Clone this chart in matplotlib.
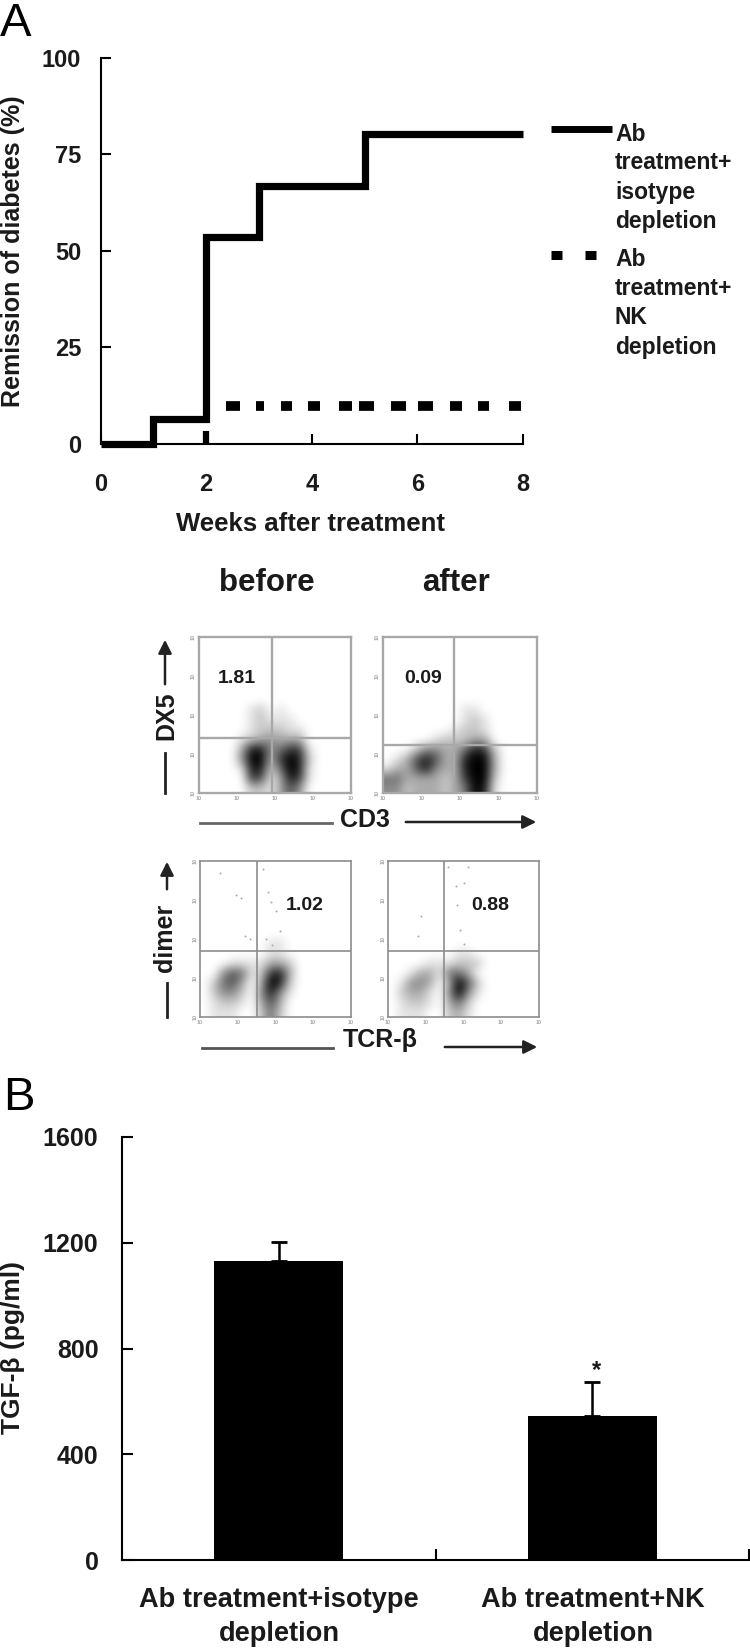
import numpy as np
import matplotlib
matplotlib.use('Agg')
import matplotlib.pyplot as plt

plt.rcParams['font.family'] = ['Liberation Sans', 'DejaVu Sans']
plt.rcParams['font.weight'] = 'bold'

W, H = 750, 1648
TXT = '#1a1a1a'

# Panel A: remission curves
weeks = [0, 1, 2, 3, 5, 8]
remission_iso = [0, 6.4, 53.6, 66.8, 80.2, 80.2]
nk_level = 9.8
nk_dash_start = [2.37, 2.94, 3.41, 3.92, 4.52, 4.89, 5.50, 6.02, 6.62, 7.14, 7.74]
nk_dash_end = [2.64, 3.09, 3.63, 4.15, 4.76, 5.17, 5.78, 6.29, 6.85, 7.36, 7.97]
nk_stub_top = 3.4
a_xticks = [0, 2, 4, 6, 8]
a_yticks = [0, 25, 50, 75, 100]
legend_iso = ['Ab', 'treatment+', 'isotype', 'depletion']
legend_nk = ['Ab', 'treatment+', 'NK', 'depletion']

# Panel B: TGF-beta bars
groups = ['Ab treatment+isotype\ndepletion', 'Ab treatment+NK\ndepletion']
tgf_mean = [1131, 545]
tgf_err = [71, 128]
b_yticks = [0, 400, 800, 1200, 1600]

# Flow plots: density read by eye, 0 = white, 9 = black, top row first
EMPTY = '0000000000000000'
dens_before = [EMPTY] * 7 + ['0000012010000000', '0000012111000000', '0000012221100000',
                             '0000123433300000', '0000388457710000', '0000499379820000',
                             '0000188259810000', '0000076138710000', '0000022136400000']
dens_after = [EMPTY] * 7 + ['0000000011000000', '0000000012100000', '0000000122100000',
                            '0000012223300000', '0002443358720000', '0136863389930000',
                            '1336843389930000', '5533332379920000', '4423332359810000']
dens_tcr1 = [EMPTY] * 8 + ['0000000110000000', '0000000110000000', '0001111332000000',
                           '0046512783000000', '0256303982000000', '0244204841000000',
                           '0122103630000000', '0111002520000000']
dens_tcr2 = [EMPTY] * 9 + ['0000000110000000', '0000111222000000', '0013315530000000',
                           '0144303962000000', '0233104941000000', '0122103520000000',
                           '0111002310000000']

# sparse events in the upper gates, fractions of the plot
sparse_x_tcr1 = [0.13, 0.24, 0.27, 0.30, 0.42, 0.45, 0.47, 0.50, 0.53, 0.48, 0.44, 0.33]
sparse_y_tcr1 = [0.92, 0.78, 0.76, 0.52, 0.95, 0.80, 0.74, 0.68, 0.55, 0.46, 0.50, 0.50]
sparse_x_tcr2 = [0.22, 0.40, 0.45, 0.50, 0.53, 0.46, 0.48, 0.20, 0.50]
sparse_y_tcr2 = [0.65, 0.96, 0.84, 0.86, 0.96, 0.72, 0.56, 0.52, 0.47]

gate_before = (0.48, 0.35)
gate_after = (0.46, 0.31)
gate_tcr1 = (0.38, 0.42)
gate_tcr2 = (0.37, 0.42)
pct_values = ['1.81', '0.09', '1.02', '0.88']


def px_axes(fig, left, top, right, bottom):
    return fig.add_axes([left / W, 1 - bottom / H, (right - left) / W, (bottom - top) / H])


def flow_panel(fig, box, rows, gate, gate_col, gate_lw, sx=None, sy=None):
    ax = px_axes(fig, *box)
    grid = np.array([[int(c) for c in r] for r in rows], dtype=float)
    ax.imshow(grid, cmap='gray_r', vmin=0, vmax=9, interpolation='bicubic',
              extent=[0, 1, 0, 1], aspect='auto', zorder=1)
    if sx:
        ax.scatter(sx, sy, s=2.0, c='#aaaaaa', linewidths=0, zorder=2)
    ax.axvline(gate[0], color=gate_col, lw=gate_lw, zorder=3)
    ax.axhline(gate[1], color=gate_col, lw=gate_lw, zorder=3)
    ax.set_xlim(0, 1)
    ax.set_ylim(0, 1)
    ax.set_xticks([])
    ax.set_yticks([])
    for s in ax.spines.values():
        s.set_color(gate_col)
        s.set_linewidth(gate_lw)
    # tiny decade labels, nearly unreadable in the source too
    for i in range(5):
        ax.text(i / 4, -0.035, '10', fontsize=4, color='#aaaaaa', ha='center', va='center', clip_on=False)
        ax.text(-0.035, i / 4, '10', fontsize=4, color='#aaaaaa', ha='center', va='center',
                rotation=90, clip_on=False)
    return ax


fig = plt.figure(figsize=(W / 100, H / 100), dpi=100)

# ---- panel A curve
ax1 = px_axes(fig, 100.5, 58, 523, 444)
ax1.step(weeks, remission_iso, where='post', color='black', lw=5.2, solid_joinstyle='miter',
         solid_capstyle='butt', clip_on=False)
ax1.hlines([nk_level] * len(nk_dash_start), nk_dash_start, nk_dash_end, color='black', lw=7)
ax1.vlines([2], [0], [nk_stub_top], color='black', lw=4.5)
ax1.set_xlim(0, 8)
ax1.set_ylim(0, 100)
ax1.set_xticks(a_xticks)
ax1.set_yticks(a_yticks)
ax1.tick_params(direction='in', length=7, width=1.5, labelsize=17)
ax1.tick_params(axis='x', pad=21)
ax1.tick_params(axis='y', pad=14)
for t in ax1.get_xticklabels() + ax1.get_yticklabels():
    t.set_color(TXT)
ax1.spines['top'].set_visible(False)
ax1.spines['right'].set_visible(False)
ax1.spines['left'].set_linewidth(1.5)
ax1.spines['bottom'].set_linewidth(1.5)

# ---- panel B bars
ax2 = px_axes(fig, 122, 1137, 749, 1560)
ax2.bar([0.5, 1.5], tgf_mean, width=0.41, color='black')
ax2.errorbar([0.5, 1.5], tgf_mean, yerr=[[0, 0], tgf_err], fmt='none', ecolor='black',
             elinewidth=1.8, capsize=5.5, capthick=2)
ax2.set_xlim(0, 2)
ax2.set_ylim(0, 1600)
ax2.set_xticks([1, 2])
ax2.set_xticklabels([])
ax2.set_yticks(b_yticks)
ax2.tick_params(direction='in', width=1.5, length=8, labelsize=18, pad=17)
for t in ax2.get_yticklabels():
    t.set_color(TXT)
ax2.spines['top'].set_visible(False)
ax2.spines['right'].set_visible(False)
ax2.spines['left'].set_linewidth(1.5)
ax2.spines['bottom'].set_linewidth(1.5)

# ---- flow plots
flow_panel(fig, (199, 637, 351, 793), dens_before, gate_before, '#a8a8a8', 1.7)
flow_panel(fig, (383, 637, 537, 793), dens_after, gate_after, '#a8a8a8', 1.7)
flow_panel(fig, (200, 861, 351, 1017), dens_tcr1, gate_tcr1, '#8c8c8c', 1.2, sparse_x_tcr1, sparse_y_tcr1)
flow_panel(fig, (388, 861, 539, 1017), dens_tcr2, gate_tcr2, '#8c8c8c', 1.2, sparse_x_tcr2, sparse_y_tcr2)

# ---- everything placed by pixel: labels, legend, arrows
ov = fig.add_axes([0, 0, 1, 1], zorder=10)
ov.set_xlim(0, W)
ov.set_ylim(H, 0)
ov.axis('off')
ov.patch.set_alpha(0)


def label(x, y, s, size, **kw):
    kw.setdefault('ha', 'center')
    kw.setdefault('va', 'center')
    kw.setdefault('color', TXT)
    ov.text(x, y, s, fontsize=size, **kw)


label(0, 24, 'A', 34, ha='left', weight='normal', color='black')
label(3, 1098, 'B', 34, ha='left', weight='normal', color='black')

label(13, 251, 'Remission of diabetes (%)', 18, rotation=90)
label(311, 524, 'Weeks after treatment', 18.5)
label(13, 1348, 'TGF-β (pg/ml)', 19, rotation=90)

# legend
ov.plot([551, 612], [129, 129], color='black', lw=5, solid_capstyle='butt')
ov.plot([551, 562], [255, 255], color='black', lw=6.5, solid_capstyle='butt')
ov.plot([585, 596], [255, 255], color='black', lw=6.5, solid_capstyle='butt')
for y, s in zip([134, 162, 192, 221], legend_iso):
    label(615, y, s, 16.5, ha='left')
for y, s in zip([259, 288, 317, 347], legend_nk):
    label(615, y, s, 16.5, ha='left')

# bar category labels
for x, s in zip([279, 593], groups):
    a, b = s.split('\n')
    label(x, 1600, a, 19.6)
    label(x, 1634, b, 19.6)
label(596, 1371, '*', 17)

# flow titles and gate percentages
label(267, 583, 'before', 22.5)
label(456, 583, 'after', 22.5)
for (x, y), s in zip([(237, 678), (423, 678), (305, 905), (490, 905)], pct_values):
    label(x, y, s, 14)
label(365, 820, 'CD3', 18)
label(166, 716, 'DX5', 18, rotation=90)
label(380, 1040, 'TCR-β', 18)
label(165, 938, 'dimer', 18, rotation=90)

line_c = '#222222'
ov.plot([200, 332], [823, 823], color='#666666', lw=2)
ov.annotate('', xy=(539, 822), xytext=(403, 822),
            arrowprops=dict(arrowstyle='-|>', color=line_c, lw=1.8, mutation_scale=20))
ov.plot([165, 165], [753, 793], color=line_c, lw=2)
ov.annotate('', xy=(165, 637), xytext=(165, 687),
            arrowprops=dict(arrowstyle='-|>', color=line_c, lw=1.8, mutation_scale=20))
ov.plot([202, 333], [1048, 1048], color='#555555', lw=2)
ov.annotate('', xy=(540, 1047), xytext=(442, 1047),
            arrowprops=dict(arrowstyle='-|>', color=line_c, lw=1.8, mutation_scale=20))
ov.plot([167, 167], [983, 1017], color=line_c, lw=2)
ov.annotate('', xy=(167, 859), xytext=(167, 892),
            arrowprops=dict(arrowstyle='-|>', color=line_c, lw=1.8, mutation_scale=20))

fig.savefig('out.png', dpi=100, facecolor='white')
